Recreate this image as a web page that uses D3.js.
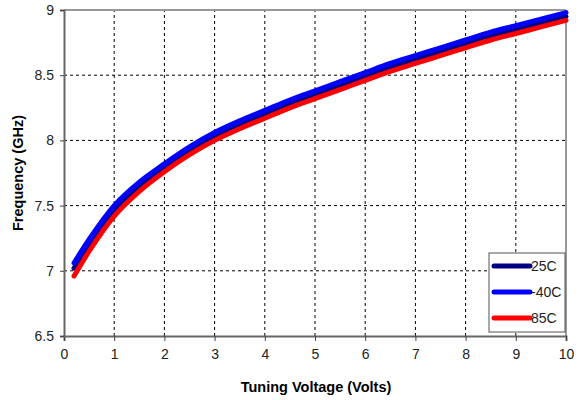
<!DOCTYPE html>
<html>
<head>
<meta charset="utf-8">
<script src="https://d3js.org/d3.v7.min.js"></script>
<style>
  body { margin: 0; background: #fff; }
  svg { font-family: "Liberation Sans", Arial, sans-serif; }
  .grid line { stroke: #000; stroke-dasharray: 3,3; stroke-width: 1; }
  .series { fill: none; stroke-width: 5; stroke-linejoin: round; stroke-linecap: round; }
</style>
</head>
<body>
<div id="chart"></div>
<script>
// voltage samples (Volts)
const volts = [0.2, 0.5, 1, 1.5, 2, 2.5, 3, 3.5, 4, 4.5, 5, 5.5, 6, 6.5, 7, 7.5, 8, 8.5, 9, 9.5, 10];
// frequency (GHz) per temperature
const f25 = [7.02, 7.20, 7.46, 7.64, 7.79, 7.92, 8.03, 8.12, 8.20, 8.28, 8.35, 8.42, 8.49, 8.56, 8.62, 8.68, 8.74, 8.80, 8.85, 8.90, 8.95];
const fm40 = [7.06, 7.24, 7.50, 7.68, 7.82, 7.95, 8.06, 8.15, 8.23, 8.31, 8.38, 8.45, 8.52, 8.59, 8.65, 8.71, 8.77, 8.83, 8.88, 8.93, 8.98];
const f85 = [6.96, 7.15, 7.42, 7.61, 7.76, 7.89, 8.00, 8.09, 8.17, 8.25, 8.32, 8.39, 8.46, 8.53, 8.59, 8.65, 8.71, 8.77, 8.82, 8.87, 8.92];
const seriesNames = ["25C", "-40C", "85C"];
const seriesColors = ["#000080", "#0000ff", "#ff0000"];
const xTicks = [0, 1, 2, 3, 4, 5, 6, 7, 8, 9, 10];
const yTicks = [6.5, 7, 7.5, 8, 8.5, 9];

const W = 580, H = 400;
const margin = { top: 10, right: 14, bottom: 64, left: 64 };

const svg = d3.select("#chart").append("svg")
  .attr("width", W).attr("height", H);

const x = d3.scaleLinear().domain([0, 10]).range([margin.left, W - margin.right]);
const y = d3.scaleLinear().domain([6.5, 9]).range([H - margin.bottom, margin.top]);

// dashed grid
const grid = svg.append("g").attr("class", "grid");
grid.selectAll(".gx").data(xTicks.slice(1, -1)).enter().append("line")
  .attr("x1", d => x(d)).attr("x2", d => x(d))
  .attr("y1", y(6.5)).attr("y2", y(9));
grid.selectAll(".gy").data(yTicks.slice(1, -1)).enter().append("line")
  .attr("x1", x(0)).attr("x2", x(10))
  .attr("y1", d => y(d)).attr("y2", d => y(d));

// top and right frame
svg.append("line").attr("x1", x(0)).attr("x2", x(10)).attr("y1", y(9)).attr("y2", y(9))
  .attr("stroke", "#999").attr("stroke-width", 2);
svg.append("line").attr("x1", x(10)).attr("x2", x(10)).attr("y1", y(9)).attr("y2", y(6.5))
  .attr("stroke", "#999").attr("stroke-width", 2);

// axes
const xAxis = svg.append("g").attr("transform", `translate(0,${y(6.5)})`)
  .call(d3.axisBottom(x).tickValues(xTicks).tickSize(5).tickPadding(8).tickFormat(d3.format("d")));
const yAxis = svg.append("g").attr("transform", `translate(${x(0)},0)`)
  .call(d3.axisLeft(y).tickValues(yTicks).tickSize(4).tickPadding(6).tickFormat(d => d));
[xAxis, yAxis].forEach(a => {
  a.select(".domain").attr("stroke", "#666").attr("stroke-width", 2);
  a.selectAll(".tick line").attr("stroke", "#444");
  a.selectAll(".tick text").attr("font-size", 14).attr("fill", "#222")
    .attr("font-family", "Liberation Sans, Arial, sans-serif");
});

// curves
const line = d3.line()
  .x((d, i) => x(volts[i]))
  .y(d => y(d))
  .curve(d3.curveMonotoneX);

const allSeries = [f25, fm40, f85];
svg.selectAll(".series").data(allSeries).enter().append("path")
  .attr("class", "series")
  .attr("stroke", (d, i) => seriesColors[i])
  .attr("d", line);

// axis titles
svg.append("text")
  .attr("x", 316).attr("y", 392)
  .attr("text-anchor", "middle").attr("font-size", 14.5).attr("font-weight", "bold")
  .text("Tuning Voltage (Volts)");
svg.append("text")
  .attr("transform", `translate(23,${(y(6.5) + y(9)) / 2}) rotate(-90)`)
  .attr("text-anchor", "middle").attr("font-size", 14.5).attr("font-weight", "bold")
  .text("Frequency (GHz)");

// legend
const lg = svg.append("g").attr("transform", "translate(489,253)");
lg.append("rect").attr("width", 76).attr("height", 79)
  .attr("fill", "#fff").attr("stroke", "#555").attr("stroke-width", 1);
seriesNames.forEach((name, i) => {
  const row = lg.append("g").attr("transform", `translate(0,${13 + i * 26})`);
  row.append("line").attr("x1", 5).attr("x2", 41).attr("y1", 0).attr("y2", 0)
    .attr("stroke", seriesColors[i]).attr("stroke-width", 5).attr("stroke-linecap", "round");
  row.append("text").attr("x", 42).attr("y", 5).attr("font-size", 14).attr("fill", "#222").text(name);
});
</script>
</body>
</html>
